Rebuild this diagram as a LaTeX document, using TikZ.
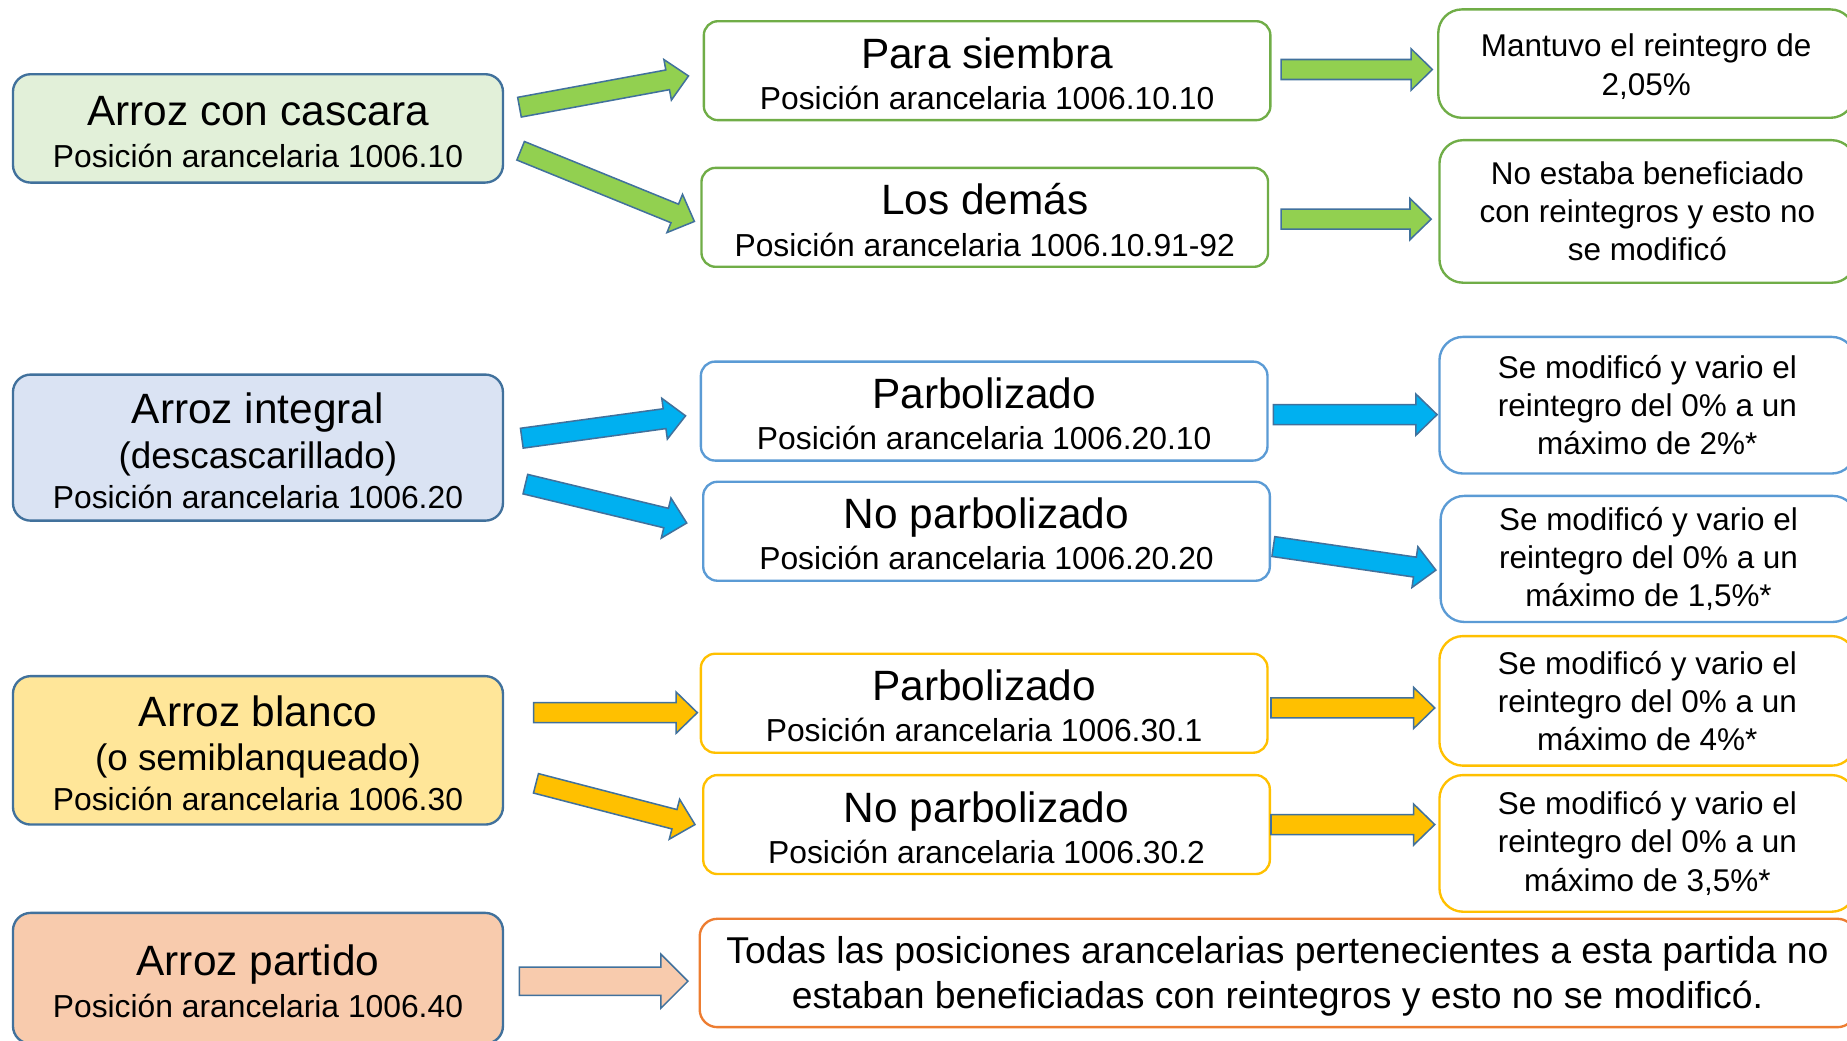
\documentclass[tikz,border=0pt]{standalone}
\usepackage{fontspec}
\setmainfont{Liberation Sans}
\usetikzlibrary{calc}

\definecolor{edgeBlue}{HTML}{41719C}
\definecolor{fillGreen}{HTML}{E2F0D9}
\definecolor{fillBlue}{HTML}{DAE3F3}
\definecolor{fillYellow}{HTML}{FFE699}
\definecolor{fillPeach}{HTML}{F8CBAD}
\definecolor{lineGreen}{HTML}{70AD47}
\definecolor{lineBlue}{HTML}{5B9BD5}
\definecolor{lineGold}{HTML}{FFC000}
\definecolor{lineOrange}{HTML}{ED7D31}
\definecolor{arrowGreen}{HTML}{92D050}
\definecolor{arrowBlue}{HTML}{00B0F0}
\definecolor{arrowGold}{HTML}{FFC000}

\newcommand{\titleLine}[1]{{\fontsize{36}{40}\selectfont\rule{0pt}{31pt}#1}}
\newcommand{\parenSize}{\fontsize{31.3}{36}\selectfont}

\tikzstyle{boxLeft} = [rectangle, rounded corners=15pt, minimum width=416pt, line width=2pt, draw=edgeBlue, align=center, font=\fontsize{27}{36}\selectfont]
\tikzstyle{boxMid} = [rectangle, rounded corners=12pt, minimum width=481pt, minimum height=84pt, line width=2pt, fill=white, align=center, font=\fontsize{27}{40}\selectfont]
\tikzstyle{boxRight} = [rectangle, rounded corners=20pt, minimum width=353pt, line width=2pt, fill=white, align=center, font=\fontsize{26.7}{32.5}\selectfont]

\tikzset{
  arrowSize/.code n args={3}{\def\shaftW{#1}\def\headW{#2}\def\headL{#3}},
  arrow/.style={draw=edgeBlue, line width=1.3pt, arrowSize={8.5pt}{17.5pt}{18pt},
    to path={($(\tikztostart)!\shaftW!90:(\tikztotarget)$)
      -- ($(\tikztotarget)!\headL!(\tikztostart)!\shaftW!90:(\tikztotarget)$)
      -- ($(\tikztotarget)!\headL!(\tikztostart)!\headW!90:(\tikztotarget)$)
      -- (\tikztotarget)
      -- ($(\tikztotarget)!\headL!(\tikztostart)!\headW!-90:(\tikztotarget)$)
      -- ($(\tikztotarget)!\headL!(\tikztostart)!\shaftW!-90:(\tikztotarget)$)
      -- ($(\tikztostart)!\shaftW!-90:(\tikztotarget)$) -- cycle}},
  bigArrow/.style={arrow, arrowSize={12pt}{23pt}{23pt}}
}

\begin{document}
\begin{tikzpicture}[x=1pt, y=-1pt]
\useasboundingbox (0,0) rectangle (1568,883);
\clip (0,0) rectangle (1568,883);

% left column
\node (cascara) [boxLeft, fill=fillGreen, minimum height=92pt] at (219,109) {
\titleLine{Arroz con cascara}\\[-1pt]
Posición arancelaria 1006.10
};

\node (integral) [boxLeft, fill=fillBlue, minimum height=124pt] at (219,380) {
\titleLine{Arroz integral}\\[2pt]
{\parenSize (descascarillado)}\\[-2pt]
Posición arancelaria 1006.20
};

\node (blanco) [boxLeft, fill=fillYellow, minimum height=126pt] at (219,637) {
\titleLine{Arroz blanco}\\[2pt]
{\parenSize (o semiblanqueado)}\\[-2pt]
Posición arancelaria 1006.30
};

\node (partido) [boxLeft, fill=fillPeach, minimum height=111pt] at (219,830.5) {
\titleLine{Arroz partido}\\
Posición arancelaria 1006.40
};

% middle column
\node (siembra) [boxMid, draw=lineGreen] at (838,60) {
\titleLine{Para siembra}\\[-5pt]
Posición arancelaria 1006.10.10
};

\node (demas) [boxMid, draw=lineGreen] at (836,184.5) {
\titleLine{Los demás}\\[-5pt]
Posición arancelaria 1006.10.91-92
};

\node (parboA) [boxMid, draw=lineBlue] at (835.5,349) {
\titleLine{Parbolizado}\\[-5pt]
Posición arancelaria 1006.20.10
};

\node (noparboA) [boxMid, draw=lineBlue] at (837.5,451) {
\titleLine{No parbolizado}\\[-5pt]
Posición arancelaria 1006.20.20
};

\node (parboB) [boxMid, draw=lineGold] at (835.5,597) {
\titleLine{Parbolizado}\\[-5pt]
Posición arancelaria 1006.30.1
};

\node (noparboB) [boxMid, draw=lineGold] at (837.5,700) {
\titleLine{No parbolizado}\\[-5pt]
Posición arancelaria 1006.30.2
};

% right column
\node (mantuvo) [boxRight, draw=lineGreen, minimum height=92pt] at (1397.5,54) {
\rule{0pt}{24.5pt}Mantuvo el reintegro de\\
2,05\%
};

\node (noestaba) [boxRight, draw=lineGreen, minimum height=121pt] at (1398.5,179.5) {
No estaba beneficiado\\
con reintegros y esto no\\
se modificó
};

\node (modA) [boxRight, draw=lineBlue, minimum height=116pt] at (1398.5,344) {
Se modificó y vario el\\
reintegro del 0\% a un\\
máximo de 2\%*
};

\node (modB) [boxRight, draw=lineBlue, minimum height=107pt] at (1399.5,474.5) {
Se modificó y vario el\\
reintegro del 0\% a un\\
máximo de 1,5\%*
};

\node (modC) [boxRight, draw=lineGold, minimum height=110pt] at (1398.5,595) {
Se modificó y vario el\\
reintegro del 0\% a un\\
máximo de 4\%*
};

\node (modD) [boxRight, draw=lineGold, minimum height=116pt] at (1398.5,716) {
Se modificó y vario el\\
reintegro del 0\% a un\\
máximo de 3,5\%*
};

\node (todas) [rectangle, rounded corners=15pt, minimum width=981pt, minimum height=92pt, line width=2pt, draw=lineOrange, fill=white, align=center, font=\fontsize{31.7}{38}\selectfont] at (1084.5,826) {
\rule{0pt}{29pt}Todas las posiciones arancelarias pertenecientes a esta partida no\\
estaban beneficiadas con reintegros y esto no se modificó.
};

% arrows
\draw[arrow, fill=arrowGreen] ([shift={(13,-18)}]cascara.east) to ([shift={(-12,4.5)}]siembra.west);
\draw[arrow, fill=arrowGreen] ([shift={(14,19)}]cascara.east) to ([shift={(-5,3.5)}]demas.west);
\draw[arrow, fill=arrowGreen] ([shift={(8,-1)}]siembra.east) to ([shift={(-4,5)}]mantuvo.west);
\draw[arrow, fill=arrowGreen] ([shift={(10,1.5)}]demas.east) to ([shift={(-6,6.5)}]noestaba.west);

\draw[arrow, fill=arrowBlue] ([shift={(15,-8)}]integral.east) to ([shift={(-12,4)}]parboA.west);
\draw[arrow, fill=arrowBlue] ([shift={(18,31)}]integral.east) to ([shift={(-13,-7)}]noparboA.west);
\draw[arrow, fill=arrowBlue] ([shift={(4,3)}]parboA.east) to ([shift={(-1,8)}]modA.west);
\draw[arrow, fill=arrowBlue] ([shift={(2,13)}]noparboA.east) to ([shift={(-3,9.5)}]modB.west);

\draw[arrow, fill=arrowGold] ([shift={(25,-32)}]blanco.east) to ([shift={(-2,8)}]parboB.west);
\draw[arrow, fill=arrowGold] ([shift={(27,28)}]blanco.east) to ([shift={(-6,0)}]noparboB.west);
\draw[arrow, fill=arrowGold] ([shift={(2,4)}]parboB.east) to ([shift={(-3,6)}]modC.west);
\draw[arrow, fill=arrowGold] (noparboB.east) to ([shift={(-3,-16)}]modD.west);

\draw[bigArrow, fill=fillPeach] ([shift={(13,2.5)}]partido.east) to ([shift={(-9,7)}]todas.west);

\end{tikzpicture}
\end{document}
